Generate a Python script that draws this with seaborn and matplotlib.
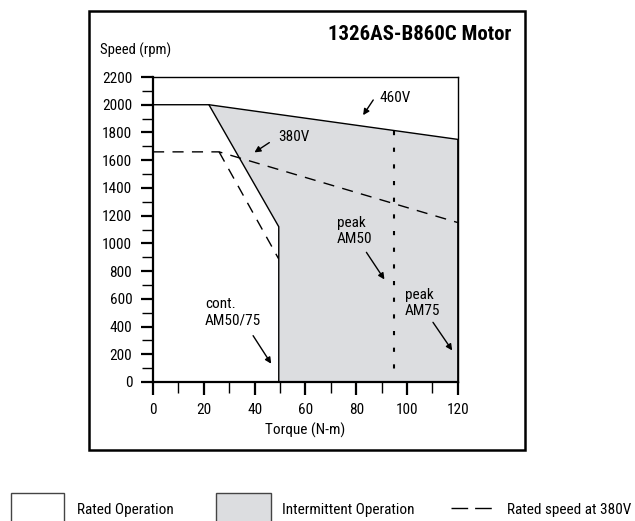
import matplotlib
matplotlib.use("Agg")
import matplotlib.pyplot as plt
import pandas as pd
import seaborn as sns
from matplotlib.patches import Rectangle
from matplotlib.lines import Line2D
from matplotlib import font_manager

# envelope data (torque N-m, speed rpm)
v460_torque = [0, 22, 120, 120]
v460_speed = [2000, 2000, 1750, 0]
cont_torque = [22, 49.5, 49.5]
cont_speed = [2000, 1120, 0]
v380_torque = [0, 26, 120]
v380_speed = [1660, 1660, 1150]
v380_cont_torque = [26, 49.4]
v380_cont_speed = [1660, 890]
peak50_torque = [95, 95]
peak50_speed = [1814, 0]
shade_torque = [22, 120, 120, 49.5, 49.5]
shade_speed = [2000, 1750, 0, 0, 1120]

sns.set_theme(style="ticks")
names = {f.name for f in font_manager.fontManager.ttflist}
fam = [n for n in ['Liberation Sans Narrow', 'DejaVu Sans Condensed', 'Roboto Condensed',
                   'Liberation Sans'] if n in names]
plt.rcParams['font.family'] = fam + ['DejaVu Sans']
plt.rcParams['text.color'] = 'black'
plt.rcParams['xtick.color'] = 'black'
plt.rcParams['ytick.color'] = 'black'
plt.rcParams['axes.labelcolor'] = 'black'

fig = plt.figure(figsize=(6.35, 5.21), dpi=100)
ax = fig.add_axes([0.241, 0.2668, 0.480, 0.5854])

ax.fill(shade_torque, shade_speed, color="#dcdde0", lw=0)


def draw(tx, sp, lw=1, dashes=None):
    d = pd.DataFrame({"t": tx, "s": sp})
    sns.lineplot(data=d, x="t", y="s", sort=False, estimator=None,
                 color="black", lw=lw, ax=ax)
    if dashes:
        ax.lines[-1].set_dashes(dashes)


draw(v460_torque, v460_speed)
draw(cont_torque, cont_speed)
draw(v380_torque, v380_speed, dashes=[8, 6])
draw(v380_cont_torque, v380_cont_speed, dashes=[8, 6])
draw(peak50_torque, peak50_speed, lw=1.5, dashes=[2, 6])

ax.set_xlim(0, 120)
ax.set_ylim(0, 2200)
ax.set_xticks(range(0, 121, 20))
ax.set_xticks(range(10, 120, 20), minor=True)
ax.set_yticks(range(0, 2201, 200))
ax.set_yticks(range(100, 2200, 200), minor=True)
ax.tick_params(which="major", length=9, width=1.6, labelsize=11, pad=6)
ax.tick_params(which="minor", length=8, width=1)
for s in ["left", "bottom"]:
    ax.spines[s].set_linewidth(1.6)
    ax.spines[s].set_color("black")
for s in ["top", "right"]:
    ax.spines[s].set_linewidth(1)
    ax.spines[s].set_color("black")
ax.set_xlabel("Torque (N-m)", fontsize=11, labelpad=4)
ax.set_ylabel("")

arrow = dict(arrowstyle="-|>", color="black", lw=1, mutation_scale=9)
ax.annotate("", xy=(82.1, 1908), xytext=(87.3, 2051), arrowprops=arrow)
ax.text(89.3, 2050, "460V", fontsize=11, va="center")
ax.annotate("", xy=(39, 1645), xytext=(46.7, 1738), arrowprops=arrow)
ax.text(49.4, 1765, "380V", fontsize=11, va="center")
ax.annotate("", xy=(91.7, 723), xytext=(83.4, 952), arrowprops=arrow)
ax.text(72.3, 1090, "peak\nAM50", fontsize=11, va="center", linespacing=1.2)
ax.annotate("", xy=(118.4, 211), xytext=(109.6, 447), arrowprops=arrow)
ax.text(99.1, 570, "peak\nAM75", fontsize=11, va="center", linespacing=1.2)
ax.annotate("", xy=(47.1, 115), xytext=(38.8, 351), arrowprops=arrow)
ax.text(20.5, 503, "cont.\nAM50/75", fontsize=11, va="center", linespacing=1.2)

# outer frame and titles
fig.patches.append(Rectangle((0.140, 0.136), 0.687, 0.843, transform=fig.transFigure,
                             fill=False, edgecolor="black", lw=1.8))
fig.text(0.806, 0.933, "1326AS-B860C Motor", fontsize=15, fontweight="bold",
         ha="right", va="center")
fig.text(0.157, 0.904, "Speed (rpm)", fontsize=10.5, va="center")

# legend along the bottom
fig.patches.append(Rectangle((0.018, -0.05), 0.083, 0.104, transform=fig.transFigure,
                             facecolor="white", edgecolor="#444444", lw=1))
fig.text(0.121, 0.021, "Rated Operation", fontsize=11, va="center")
fig.patches.append(Rectangle((0.340, -0.05), 0.086, 0.104, transform=fig.transFigure,
                             facecolor="#dcdde0", edgecolor="#444444", lw=1))
fig.text(0.444, 0.021, "Intermittent Operation", fontsize=11, va="center")
fig.lines.append(Line2D([0.711, 0.782], [0.025, 0.025], transform=fig.transFigure,
                        color="black", lw=1, dashes=[12, 5]))
fig.text(0.798, 0.021, "Rated speed at 380V", fontsize=11, va="center")

fig.savefig("out.png", dpi=100)
